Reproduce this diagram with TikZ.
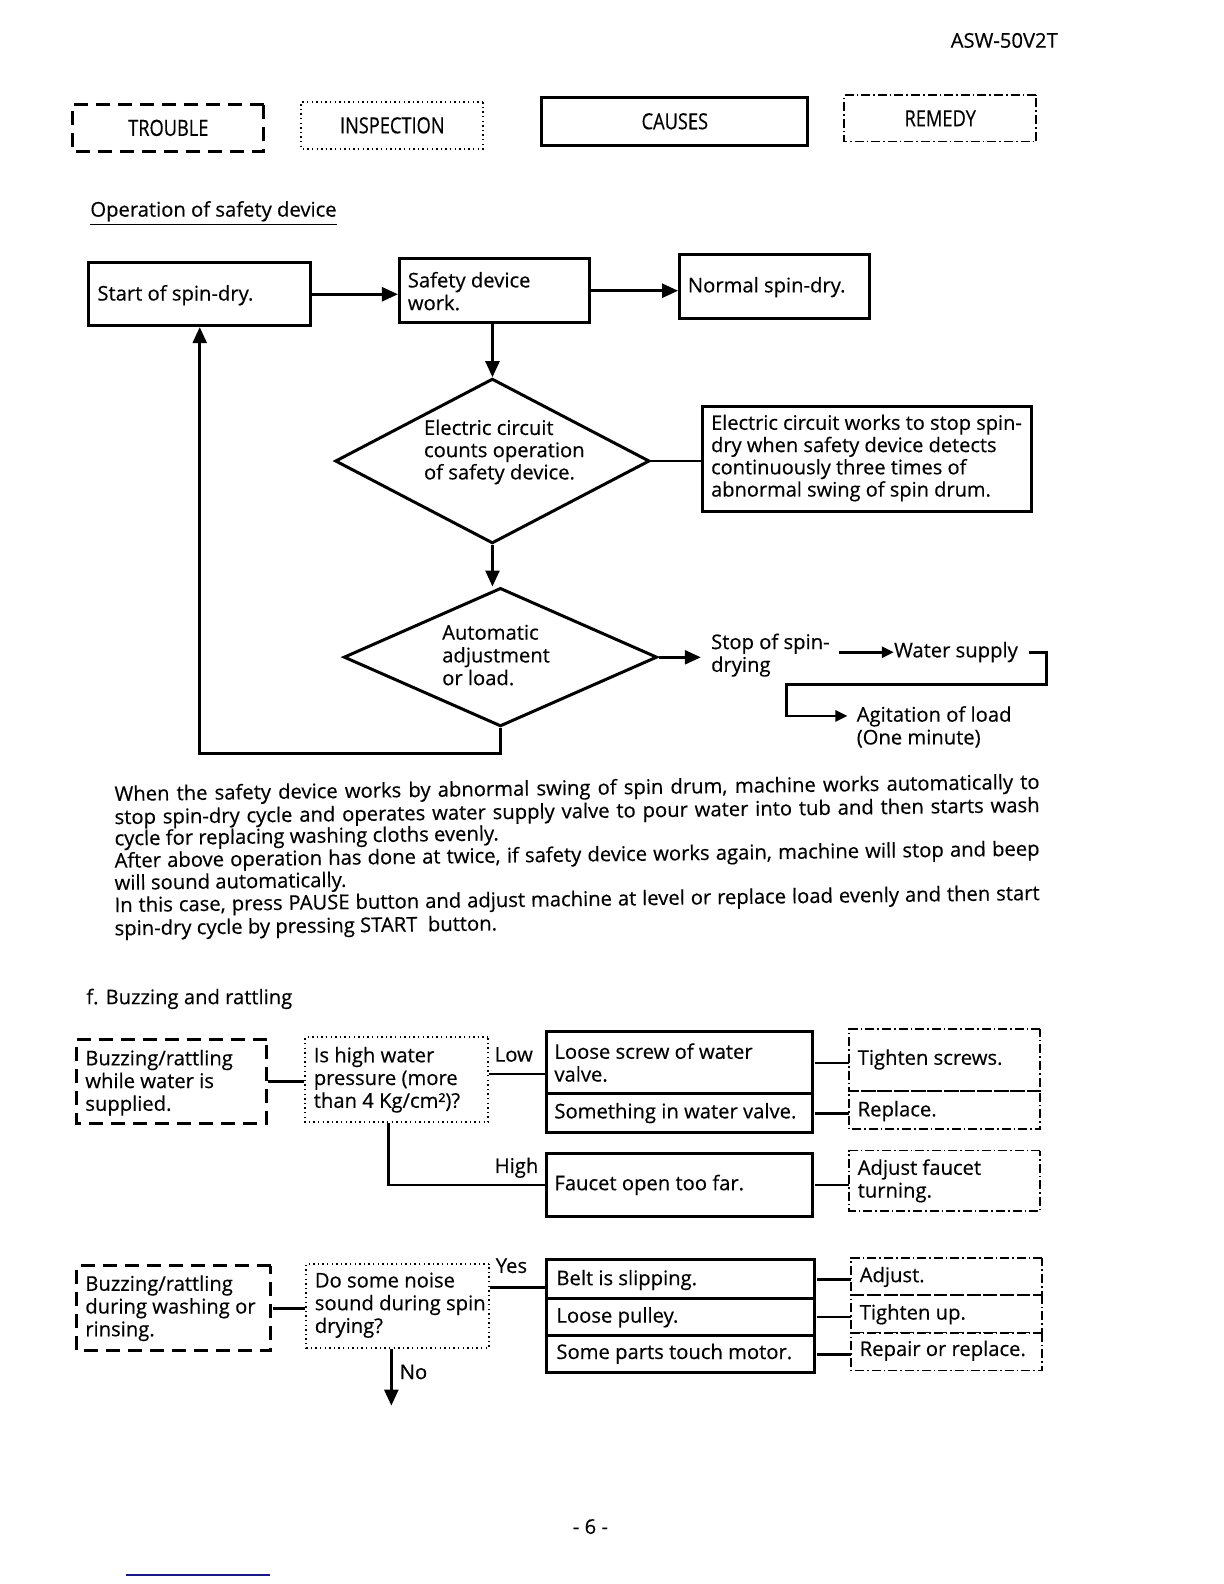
\documentclass[tikz,border=0pt]{standalone}
\usepackage{fontspec}
\setmainfont{Open Sans}[FakeBold=0.4]
\newfontfamily\legfont[FakeStretch=0.82,FakeBold=0.4]{Open Sans}
\usetikzlibrary{arrows.meta,shapes.geometric}
\definecolor{navyln}{RGB}{25,25,140}
\begin{document}
\begin{tikzpicture}[x=0.5pt,y=-0.5pt,
  every node/.style={inner sep=0pt},
  solidbox/.style={draw,line width=1.5pt},
  troublebox/.style={draw,line width=1.5pt,dash pattern=on 7pt off 4pt},
  inspbox/.style={draw,line width=1pt,dash pattern=on 0.7pt off 1.6pt},
  remedybox/.style={draw,line width=0.9pt,dash pattern=on 4.5pt off 1.5pt on 0.8pt off 1.5pt},
  dia/.style={draw,diamond,aspect=2,line width=1.5pt},
  conn/.style={line width=1.3pt},
  arr/.style={conn,-{Triangle[length=8pt,width=7pt]}},
  sarr/.style={conn,-{Triangle[length=6pt,width=5.5pt]}},
  txt/.style={anchor=west,align=left,font=\fontsize{10}{11.25}\selectfont},
  legtext/.style={font=\legfont\fontsize{11}{12}\selectfont},
  ptxt/.style={anchor=west,rotate=0.75,font=\fontsize{10}{11}\selectfont},
]
\fill[white] (0,0) rectangle (1224,1584);
\useasboundingbox (0,0) rectangle (1224,1584);

\begin{scope}[scale=1.011, transform shape]
% header
\node[txt] (hdr) at (940,40) {ASW-50V2T};

% legend
\node[troublebox, minimum width=94.5pt, minimum height=23.5pt, legtext] (leg1) at (166.5,126.5) {TROUBLE};
\node[inspbox, minimum width=90pt, minimum height=23pt, legtext] (leg2) at (388,124) {INSPECTION};
\node[solidbox, minimum width=131.5pt, minimum height=24pt, legtext] (leg3) at (667.5,120) {CAUSES};
\node[remedybox, minimum width=95pt, minimum height=23pt, legtext] (leg4) at (930,117) {REMEDY};

\node[txt] (optitle) at (89,211) {\underline{Operation of safety device}};

% top flow
\node[solidbox, minimum width=109.5pt, minimum height=31pt] (start) at (197.5,291) {};
\node[txt] (tstart) at (96,292) {Start of spin-dry.};
\node[solidbox, minimum width=94pt, minimum height=31.5pt] (safety) at (489,287.5) {};
\node[txt] (tsafety) at (403,288) {Safety device\\work.};
\node[solidbox, minimum width=94pt, minimum height=31.5pt] (normal) at (766,283.5) {};
\node[txt] (tnormal) at (680,284) {Normal spin-dry.};

\node[dia, minimum width=155.5pt, minimum height=81.5pt] (d1) at (487,456) {};
\node[txt, font=\fontsize{10}{11}\selectfont] (td1) at (419,447) {Electric circuit\\counts operation\\of safety device.};
\node[solidbox, minimum width=162.5pt, minimum height=52pt] (elec) at (857.5,454) {};
\node[txt, font=\fontsize{9.9}{11}\selectfont] (telec) at (703,453) {Electric circuit works to stop spin-\\dry when safety device detects\\continuously three times of\\abnormal swing of spin drum.};

\node[dia, minimum width=155pt, minimum height=68.5pt] (d2) at (495,650) {};
\node[txt] (td2) at (437,648) {Automatic\\adjustment\\or load.};
\node[txt] (stop) at (703,648) {Stop of spin-\\drying};
\node[txt] (water) at (884,645) {Water supply};
\node[txt] (agit) at (847,719) {Agitation of load\\(One minute)};

\coordinate (stopin) at (693,650);
\coordinate (wstart) at (830,645);
\coordinate (wc1) at (1035,677);
\coordinate (wc2) at (778,708);
\coordinate (wc3) at (838,708);
\coordinate (fb) at (0,745);

\draw[arr] (start.east) -- (start.east -| safety.west);
\draw[arr] (safety.east) -- (safety.east -| normal.west);
\draw[arr] (d1.north |- safety.south) -- (d1.north);
\draw[conn] (d1.east) -- (d1.east -| elec.west);
\draw[arr] (d1.south) -- (d1.south |- d2.north);
\draw[arr] (d2.east) -- (d2.east -| stopin);
\draw[sarr] (wstart) -- (wstart -| water.west);
\draw[sarr] ([xshift=5pt]water.east) -| (wc1) -| (wc2) -- (wc3);
\draw[arr] (d2.south) -- (d2.south |- fb) -- (start.south |- fb) -- (start.south);

% paragraph
\node[ptxt] (p1) at (113,787) {\makebox[457.5pt][s]{When the safety device works by abnormal swing of spin drum, machine works automatically to}};
\node[ptxt] (p2) at (113,810) {\makebox[457.5pt][s]{stop spin-dry cycle and operates water supply valve to pour water into tub and then starts wash}};
\node[ptxt] (p3) at (113,831) {cycle for replacing washing cloths evenly.};
\node[ptxt] (p4) at (113,853) {\makebox[457.5pt][s]{After above operation has done at twice, if safety device works again, machine will stop and beep}};
\node[ptxt] (p5) at (113,875) {will sound automatically.};
\node[ptxt] (p6) at (113,897) {\makebox[457.5pt][s]{In this case, press PAUSE button and adjust machine at level or replace load evenly and then start}};
\node[ptxt] (p7) at (113,920) {spin-dry cycle by pressing START\ \ button.};

\node[txt] (ftitle) at (85,988) {f. Buzzing and rattling};

% lower flow 1
\node[troublebox, minimum width=94pt, minimum height=41.5pt] (tr1) at (170,1069.5) {};
\node[txt] (ttr1) at (84,1071) {Buzzing/rattling\\while water is\\supplied.};
\node[inspbox, minimum width=90.5pt, minimum height=42pt] (in1) at (392.5,1068) {};
\node[txt] (tin1) at (310,1068) {Is high water\\pressure (more\\than 4 Kg/cm²)?};
\node[solidbox, minimum width=131.5pt, minimum height=31pt] (c1a) at (672.5,1051) {};
\node[solidbox, minimum width=131.5pt, minimum height=19pt] (c1b) at (672.5,1101) {};
\node[txt] (tc1a) at (548,1051) {Loose screw of water\\valve.};
\node[txt] (tc1b) at (548,1101) {Something in water valve.};
\node[remedybox, minimum width=94.5pt, minimum height=30.5pt] (r1a) at (934.5,1048.5) {};
\node[remedybox, minimum width=94.5pt, minimum height=19pt] (r1b) at (934.5,1098) {};
\node[txt] (tr1a) at (848,1048) {Tighten screws.};
\node[txt] (tr1b) at (848,1099) {Replace.};
\node[txt] (low) at (489,1043) {Low};
\node[solidbox, minimum width=131.5pt, minimum height=31pt] (c2) at (672.5,1172) {};
\node[txt] (tc2) at (548,1172) {Faucet open too far.};
\node[remedybox, minimum width=94.5pt, minimum height=30pt] (r2) at (934.5,1168) {};
\node[txt] (tr2) at (848,1168) {Adjust faucet\\turning.};
\node[txt] (high) at (489,1155) {High};

\coordinate (ylow) at (0,1062);
\coordinate (xhigh) at (384,0);
\draw[conn] (tr1.east) -- (tr1.east -| in1.west);
\draw[conn] (in1.east |- ylow) -- (c1a.west |- ylow);
\draw[conn] (c1a.east) -- (c1a.east -| r1a.west);
\draw[conn] (c1b.east) -- (c1b.east -| r1b.west);
\draw[conn] (xhigh |- in1.south) -- (xhigh |- c2.west) -- (c2.west);
\draw[conn] (c2.east) -- (c2.east -| r2.west);

% lower flow 2
\node[troublebox, minimum width=96pt, minimum height=42pt] (tr2) at (172,1294) {};
\node[txt] (ttr2) at (84,1294) {Buzzing/rattling\\during washing or\\rinsing.};
\node[inspbox, minimum width=90.5pt, minimum height=41.5pt] (in2) at (393.5,1291.5) {};
\node[txt] (tin2) at (311,1291) {Do some noise\\sound during spin\\drying?};
\node[txt] (yes) at (490,1252) {Yes};
\node[solidbox, minimum width=132.5pt, minimum height=19pt] (c3a) at (673.5,1265) {};
\node[solidbox, minimum width=132.5pt, minimum height=18.5pt] (c3b) at (673.5,1302.5) {};
\node[solidbox, minimum width=132.5pt, minimum height=18.5pt] (c3c) at (673.5,1339.5) {};
\node[txt] (tc3a) at (550,1266) {Belt is slipping.};
\node[txt] (tc3b) at (550,1303) {Loose pulley.};
\node[txt] (tc3c) at (550,1339) {Some parts touch motor.};
\node[remedybox, minimum width=94.5pt, minimum height=18.5pt] (r3a) at (936.5,1262.5) {};
\node[remedybox, minimum width=94.5pt, minimum height=18.5pt] (r3b) at (936.5,1299.5) {};
\node[remedybox, minimum width=94.5pt, minimum height=18.5pt] (r3c) at (936.5,1337) {};
\node[txt] (tr3a) at (850,1263) {Adjust.};
\node[txt] (tr3b) at (850,1300) {Tighten up.};
\node[txt] (tr3c) at (850,1336) {Repair or replace.};
\node[txt] (no) at (395,1357) {No};

\coordinate (yyes) at (0,1273);
\coordinate (noend) at (387,1390);
\draw[conn] (tr2.east) -- (tr2.east -| in2.west);
\draw[conn] (in2.east |- yyes) -- (c3a.west |- yyes);
\draw[conn] (c3a.east) -- (c3a.east -| r3a.west);
\draw[conn] (c3b.east) -- (c3b.east -| r3b.west);
\draw[conn] (c3c.east) -- (c3c.east -| r3c.west);
\draw[arr] (noend |- in2.south) -- (noend);

% footer
\node[font=\fontsize{10}{12}\selectfont] (pg) at (584,1510) {- 6 -};
\draw[navyln, line width=0.8pt] (125,1558) -- (267,1558);
\end{scope}
\end{tikzpicture}
\end{document}
